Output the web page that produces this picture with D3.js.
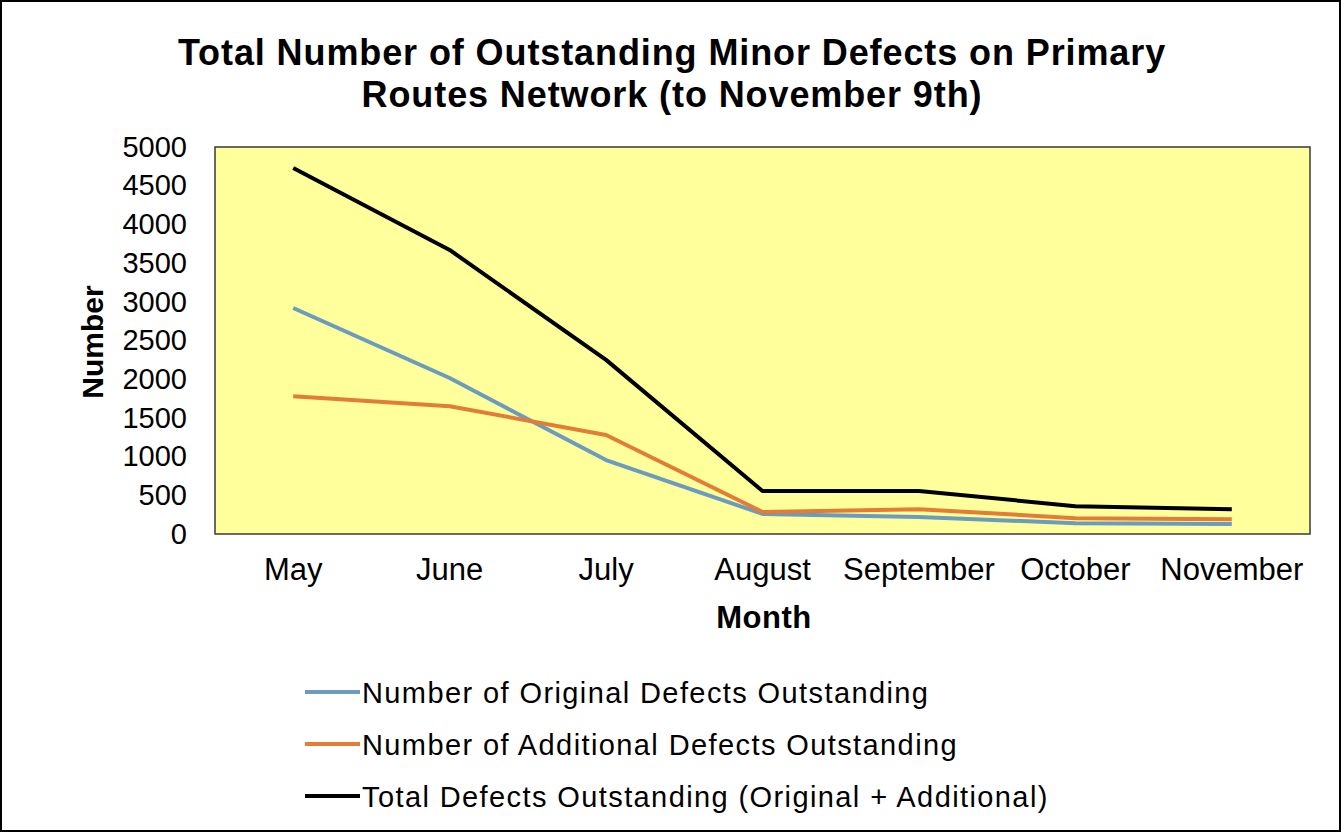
<!DOCTYPE html>
<html>
<head>
<meta charset="utf-8">
<script src="https://cdn.jsdelivr.net/npm/d3@7"></script>
<style>
  body { margin: 0; background: #fff; }
  svg { display: block; font-family: "Liberation Sans", Arial, sans-serif; }
</style>
</head>
<body>
<div class="chart"></div>
<script>
var months = ["May", "June", "July", "August", "September", "October", "November"];
var original = [2920, 2015, 955, 260, 220, 140, 130];
var additional = [1780, 1650, 1280, 285, 320, 205, 190];
var total = [4730, 3670, 2250, 555, 555, 360, 320];
var yTicks = [0, 500, 1000, 1500, 2000, 2500, 3000, 3500, 4000, 4500, 5000];
var seriesNames = [
    "Number of Original Defects Outstanding",
    "Number of Additional Defects Outstanding",
    "Total Defects Outstanding (Original + Additional)"
];
var seriesColors = ["#6b9cc0", "#e27c36", "#000000"];

var svgWidth = 1341, svgHeight = 832;
var margin = { top: 147, right: 31, bottom: 298, left: 215 };
var width = svgWidth - margin.left - margin.right;
var height = svgHeight - margin.top - margin.bottom;

var svg = d3.select(".chart").append("svg")
    .attr("width", svgWidth)
    .attr("height", svgHeight);

// outer frame
svg.append("rect")
    .attr("x", 1).attr("y", 1)
    .attr("width", svgWidth - 2).attr("height", svgHeight - 2)
    .attr("fill", "#fff").attr("stroke", "#000").attr("stroke-width", 2);

// title
var title = svg.append("text")
    .attr("text-anchor", "middle")
    .attr("font-size", 36).attr("font-weight", "bold")
    .attr("letter-spacing", 0.9);
title.append("tspan").attr("x", 672).attr("y", 65)
    .text("Total Number of Outstanding Minor Defects on Primary");
title.append("tspan").attr("x", 672).attr("y", 107)
    .text("Routes Network (to November 9th)");

var chartGroup = svg.append("g")
    .attr("transform", `translate(${margin.left}, ${margin.top})`);

var xBand = d3.scaleBand().domain(months).range([0, width]);
var y = d3.scaleLinear().domain([0, 5000]).range([height, 0]);

chartGroup.append("rect")
    .attr("width", width).attr("height", height)
    .attr("fill", "#ffff9c")
    .attr("stroke", "#3a3a3a").attr("stroke-width", 1.5);

// y axis
var yAxis = d3.axisLeft(y).tickValues(yTicks).tickFormat(d3.format("d"))
    .tickSize(0).tickPadding(28);
var yg = chartGroup.append("g").call(yAxis);
yg.select(".domain").remove();
yg.selectAll("text").attr("font-size", 29).attr("fill", "#000")
    .attr("font-family", "Liberation Sans, Arial, sans-serif");

// x axis
var xAxis = d3.axisBottom(xBand).tickSize(0).tickPadding(24);
var xg = chartGroup.append("g").attr("transform", `translate(0, ${height})`).call(xAxis);
xg.select(".domain").remove();
xg.selectAll("text").attr("font-size", 31).attr("fill", "#000")
    .attr("font-family", "Liberation Sans, Arial, sans-serif");

// axis titles
svg.append("text")
    .attr("transform", "translate(103, 342) rotate(-90)")
    .attr("text-anchor", "middle")
    .attr("font-size", 30).attr("font-weight", "bold")
    .text("Number");
svg.append("text")
    .attr("x", 764).attr("y", 628)
    .attr("text-anchor", "middle")
    .attr("font-size", 31).attr("font-weight", "bold")
    .attr("letter-spacing", 0.5)
    .text("Month");

// lines
var line = d3.line()
    .x((d, i) => xBand(months[i]) + xBand.bandwidth() / 2)
    .y(d => y(d));

[original, additional, total].forEach(function(values, i) {
    chartGroup.append("path")
        .datum(values)
        .attr("d", line)
        .attr("fill", "none")
        .attr("stroke", seriesColors[i])
        .attr("stroke-width", 4)
        .attr("stroke-linejoin", "round");
});

// legend
var legend = svg.append("g").attr("transform", "translate(305, 692)");
seriesNames.forEach(function(name, i) {
    var row = legend.append("g").attr("transform", `translate(0, ${i * 52})`);
    row.append("line")
        .attr("x1", 0).attr("x2", 55)
        .attr("y1", 0).attr("y2", 0)
        .attr("stroke", seriesColors[i]).attr("stroke-width", 4);
    row.append("text")
        .attr("x", 57).attr("y", 11)
        .attr("font-size", 29)
        .attr("letter-spacing", 1.4)
        .text(name);
});
</script>
</body>
</html>
